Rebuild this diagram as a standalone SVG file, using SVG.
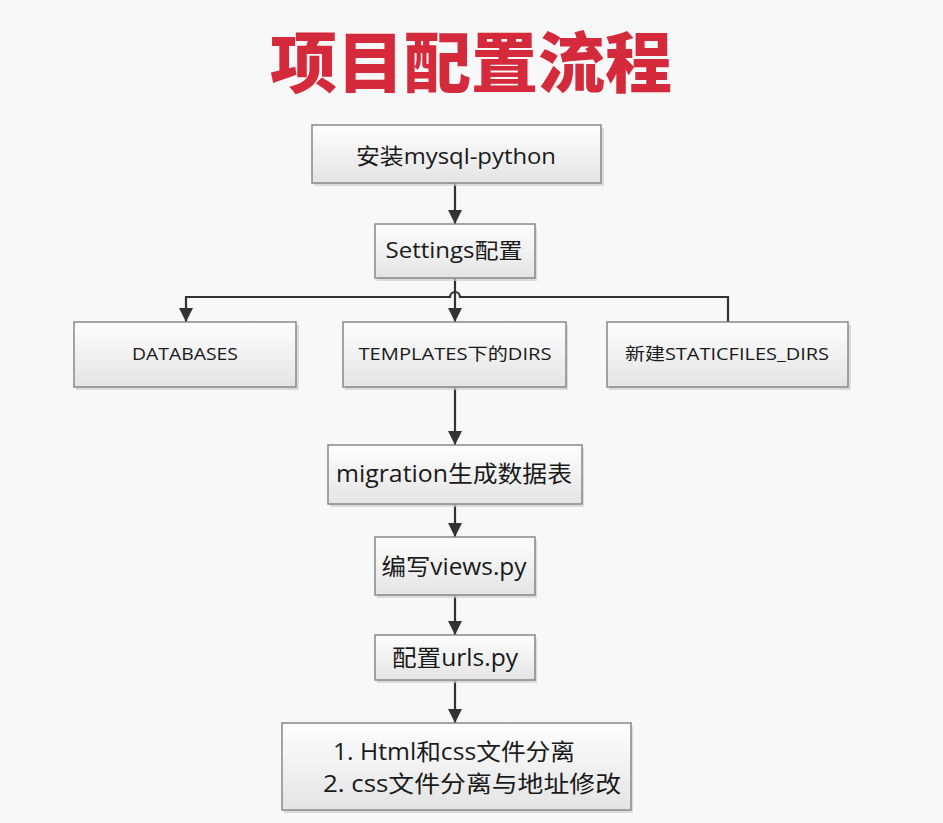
<svg xmlns="http://www.w3.org/2000/svg" width="943" height="823" viewBox="0 0 943 823">
<style>
.box{fill:url(#g);stroke:#888;stroke-width:1.5}
.sh{fill:#cfcfcf;opacity:0.7}
.t{font-family:"Open Sans","Noto Sans CJK SC",sans-serif;fill:#1a1a1a;text-anchor:middle}
.c{fill:none;stroke:#333;stroke-width:2.2}
</style>
<defs>
<linearGradient id="g" x1="0" y1="0" x2="0" y2="1">
<stop offset="0" stop-color="#fefefe"/>
<stop offset="1" stop-color="#e4e4e4"/>
</linearGradient>
<marker id="ah" markerUnits="userSpaceOnUse" markerWidth="14" markerHeight="14" viewBox="0 0 12 12" refX="12" refY="6" orient="auto">
<path d="M0,0 L12,6 L0,12 z" fill="#333"/>
</marker>
</defs>
<rect width="943" height="823" fill="#f8f8f8"/>
<text x="471" y="87" font-family="'Noto Sans CJK SC',sans-serif" font-weight="900" font-size="66" fill="#d42a3c" text-anchor="middle" textLength="402" lengthAdjust="spacingAndGlyphs">项目配置流程</text>

<g id="connectors">
<path class="c" d="M455,183 V224" marker-end="url(#ah)"/>
<path class="c" d="M455,278 V322" marker-end="url(#ah)"/>
<path class="c" d="M728,322 V297 H460 A5,5 0 0 0 450,297 H186 V322" marker-end="url(#ah)"/>
<path class="c" d="M455,387 V445" marker-end="url(#ah)"/>
<path class="c" d="M455,504 V537" marker-end="url(#ah)"/>
<path class="c" d="M455,595 V635" marker-end="url(#ah)"/>
<path class="c" d="M455,680 V723" marker-end="url(#ah)"/>
</g>

<g id="n1">
<rect class="sh" x="314" y="128" width="290" height="58"/>
<rect class="box" x="312" y="125" width="289" height="58"/>
<text class="t" x="456" y="164" font-size="22" textLength="200" lengthAdjust="spacingAndGlyphs">安装mysql-python</text>
</g>
<g id="n2">
<rect class="sh" x="377" y="227" width="160" height="54"/>
<rect class="box" x="375" y="224" width="160" height="54"/>
<text class="t" x="454" y="258" font-size="21" textLength="137" lengthAdjust="spacingAndGlyphs">Settings配置</text>
</g>
<g id="n3">
<rect class="sh" x="76" y="325" width="223" height="65"/>
<rect class="box" x="74" y="322" width="222" height="65"/>
<text class="t" x="185" y="360" font-size="17" textLength="106" lengthAdjust="spacingAndGlyphs">DATABASES</text>
</g>
<g id="n4">
<rect class="sh" x="345" y="325" width="223" height="65"/>
<rect class="box" x="343" y="322" width="223" height="65"/>
<text class="t" x="455" y="360" font-size="17" textLength="193" lengthAdjust="spacingAndGlyphs">TEMPLATES下的DIRS</text>
</g>
<g id="n5">
<rect class="sh" x="609" y="325" width="242" height="65"/>
<rect class="box" x="607" y="322" width="241" height="65"/>
<text class="t" x="727" y="360" font-size="17" textLength="204" lengthAdjust="spacingAndGlyphs">新建STATICFILES_DIRS</text>
</g>
<g id="n6">
<rect class="sh" x="330" y="448" width="254" height="59"/>
<rect class="box" x="328" y="445" width="254" height="59"/>
<text class="t" x="454" y="482" font-size="23" textLength="236" lengthAdjust="spacingAndGlyphs">migration生成数据表</text>
</g>
<g id="n7">
<rect class="sh" x="377" y="540" width="160" height="58"/>
<rect class="box" x="375" y="537" width="160" height="58"/>
<text class="t" x="454" y="575" font-size="23" textLength="145" lengthAdjust="spacingAndGlyphs">编写views.py</text>
</g>
<g id="n8">
<rect class="sh" x="377" y="638" width="160" height="45"/>
<rect class="box" x="375" y="635" width="160" height="45"/>
<text class="t" x="455" y="666" font-size="23" textLength="126" lengthAdjust="spacingAndGlyphs">配置urls.py</text>
</g>
<g id="n9">
<rect class="sh" x="284" y="726" width="349" height="87"/>
<rect class="box" x="282" y="723" width="349" height="87"/>
<text class="t" x="454" y="760" font-size="23" textLength="242" lengthAdjust="spacingAndGlyphs">1. Html和css文件分离</text>
<text class="t" x="472" y="792" font-size="23" textLength="298" lengthAdjust="spacingAndGlyphs">2. css文件分离与地址修改</text>
</g>
</svg>
